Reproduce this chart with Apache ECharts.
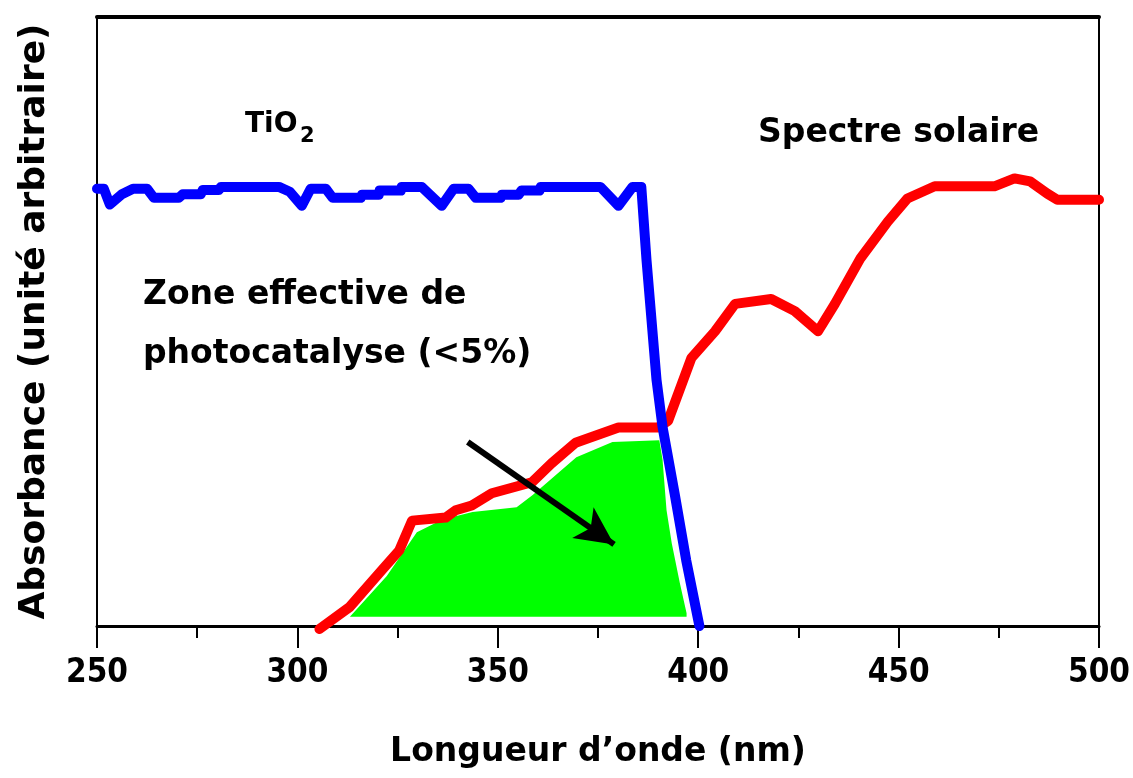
<!DOCTYPE html>
<html>
<head>
<meta charset="utf-8">
<script src="https://cdn.jsdelivr.net/npm/echarts@6/dist/echarts.min.js"></script>
<style>
  html, body { margin: 0; padding: 0; background: #fff; }
  #chart { width: 1133px; height: 778px; }
</style>
</head>
<body>
<div id="chart"></div>
<script>
// ---- Data (wavelength in nm, absorbance in arbitrary units 0..100) ----
var xTicks = [250, 300, 350, 400, 450, 500];

var tio2Wavelength = [250, 251.7, 253.2, 256.2, 259, 262.5, 264.2, 270.4, 271.4, 275.9, 276.4, 280.4, 280.9, 295.4, 298.1, 301.1, 303.3, 307.1, 308.8, 315.8, 316.1, 320.3, 320.5, 325.8, 326, 331, 336, 339, 342.7, 344.5, 350.7, 351, 355.2, 355.9, 360.4, 360.7, 375.6, 380.1, 383.6, 385.8, 387.1, 389.6, 391.1, 394.1, 397, 400.3];
var tio2Absorbance = [71.8, 71.8, 69.2, 70.9, 71.8, 71.8, 70.3, 70.3, 70.9, 70.9, 71.6, 71.6, 72.1, 72.1, 71.3, 69.0, 71.8, 71.8, 70.3, 70.3, 70.8, 70.8, 71.5, 71.5, 72.1, 72.1, 69.0, 71.8, 71.8, 70.3, 70.3, 70.8, 70.8, 71.5, 71.5, 72.1, 72.1, 69.0, 72.1, 72.1, 60.1, 40.4, 32.7, 21.8, 10.8, 0];

var solarWavelength = [305.5, 313, 321.1, 325.4, 328.6, 337, 339.5, 343.5, 348.5, 358.5, 363.4, 369.4, 380.1, 390, 392.5, 398.3, 404.2, 409.2, 418.2, 424.1, 429.9, 434.1, 440.5, 447.3, 452.2, 459, 473.9, 478.9, 482.8, 487.1, 489.6, 500];
var solarIntensity = [-0.5, 3.1, 9.2, 12.4, 17.3, 17.8, 19.0, 19.8, 21.8, 23.6, 26.7, 30.1, 32.6, 32.6, 33.7, 44.0, 48.4, 52.9, 53.7, 51.7, 48.4, 52.9, 60.4, 66.4, 70.2, 72.2, 72.2, 73.5, 73.0, 71.0, 70.0, 70.0];

var zoneWavelength = [313.1, 322.3, 329.8, 336.2, 343.7, 354.7, 358.7, 369.6, 378.6, 390.3, 391.1, 392.1, 393.4, 395.4, 397.1];
var zoneValue = [1.5, 8.2, 15.4, 17.5, 18.7, 19.5, 21.5, 27.7, 30.2, 30.5, 27.3, 19.0, 13.6, 7.1, 2.1];
var zoneBase = 1.5;

var arrowStart = [342.5, 30.2];
var arrowEnd = [379.0, 13.4];

function pairs(xs, ys) { return xs.map(function (x, i) { return [x, ys[i]]; }); }

var chart = echarts.init(document.getElementById('chart'));
var TXT = '"DejaVu Sans", "Liberation Sans", sans-serif';

chart.setOption({
  animation: false,
  backgroundColor: '#fff',
  grid: { left: 97, right: 33, top: 17, bottom: 152, containLabel: false },
  xAxis: [{
    type: 'value', min: xTicks[0], max: xTicks[xTicks.length - 1], interval: 50,
    position: 'bottom',
    axisLine: { show: true, onZero: false, lineStyle: { color: '#000', width: 3 } },
    axisTick: { show: true, length: 22, lineStyle: { color: '#000', width: 2 } },
    minorTick: { show: true, splitNumber: 2, length: 12, lineStyle: { color: '#000', width: 2 } },
    splitLine: { show: false },
    axisLabel: { color: '#000', fontFamily: '"Liberation Sans Narrow", "DejaVu Sans Condensed", sans-serif', fontWeight: 'bold', fontSize: 33, margin: 31 },
    name: 'Longueur d\u2019onde (nm)', nameLocation: 'middle', nameGap: 110,
    nameTextStyle: { color: '#000', fontFamily: TXT, fontWeight: 'bold', fontSize: 33 }
  }, {
    type: 'value', min: xTicks[0], max: xTicks[xTicks.length - 1], position: 'top',
    axisLine: { show: true, onZero: false, lineStyle: { color: '#000', width: 4 } },
    axisTick: { show: false }, axisLabel: { show: false }, splitLine: { show: false }
  }],
  yAxis: [{
    type: 'value', min: 0, max: 100, position: 'left',
    axisLine: { show: true, onZero: false, lineStyle: { color: '#000', width: 2 } },
    axisTick: { show: false }, axisLabel: { show: false }, splitLine: { show: false },
    name: 'Absorbance (unit\u00e9 arbitraire)', nameLocation: 'middle', nameGap: 44,
    nameTextStyle: { color: '#000', fontFamily: TXT, fontWeight: 'bold', fontSize: 36 }
  }, {
    type: 'value', min: 0, max: 100, position: 'right',
    axisLine: { show: true, onZero: false, lineStyle: { color: '#000', width: 2 } },
    axisTick: { show: false }, axisLabel: { show: false }, splitLine: { show: false }
  }],
  series: [{
    name: 'Zone effective', type: 'line', z: 2,
    data: pairs(zoneWavelength, zoneValue),
    showSymbol: false, symbol: 'none',
    lineStyle: { width: 0, opacity: 0 },
    areaStyle: { color: '#00ff00', opacity: 1, origin: zoneBase }
  }, {
    name: 'Spectre solaire', type: 'line', z: 3, clip: false,
    data: pairs(solarWavelength, solarIntensity),
    showSymbol: false, symbol: 'none',
    lineStyle: { color: '#ff0000', width: 10, join: 'round', cap: 'round' }
  }, {
    name: 'TiO2', type: 'line', z: 4,
    data: pairs(tio2Wavelength, tio2Absorbance),
    showSymbol: false, symbol: 'none',
    lineStyle: { color: '#0000ff', width: 10, join: 'round', cap: 'round' }
  }, {
    name: 'arrow', type: 'line', z: 5, data: [],
    markLine: {
      silent: true, animation: false,
      symbol: ['none', 'arrow'], symbolSize: [28, 38],
      label: { show: false },
      lineStyle: { color: '#000', width: 6, type: 'solid' },
      data: [[{ coord: arrowStart }, { coord: arrowEnd }]]
    }
  }],
  graphic: [
    { type: 'text', x: 245, y: 125, z: 10, style: { text: 'TiO', font: 'bold 28px ' + TXT, fill: '#000', align: 'left', verticalAlign: 'middle' } },
    { type: 'text', x: 300, y: 137, z: 10, style: { text: '2', font: 'bold 21px ' + TXT, fill: '#000', align: 'left', verticalAlign: 'middle' } },
    { type: 'text', x: 758, y: 133, z: 10, style: { text: 'Spectre solaire', font: 'bold 33px ' + TXT, fill: '#000', align: 'left', verticalAlign: 'middle' } },
    { type: 'text', x: 143, y: 295, z: 10, style: { text: 'Zone effective de', font: 'bold 33px ' + TXT, fill: '#000', align: 'left', verticalAlign: 'middle' } },
    { type: 'text', x: 143, y: 354, z: 10, style: { text: 'photocatalyse (<5%)', font: 'bold 33px ' + TXT, fill: '#000', align: 'left', verticalAlign: 'middle' } }
  ]
});
</script>
</body>
</html>
